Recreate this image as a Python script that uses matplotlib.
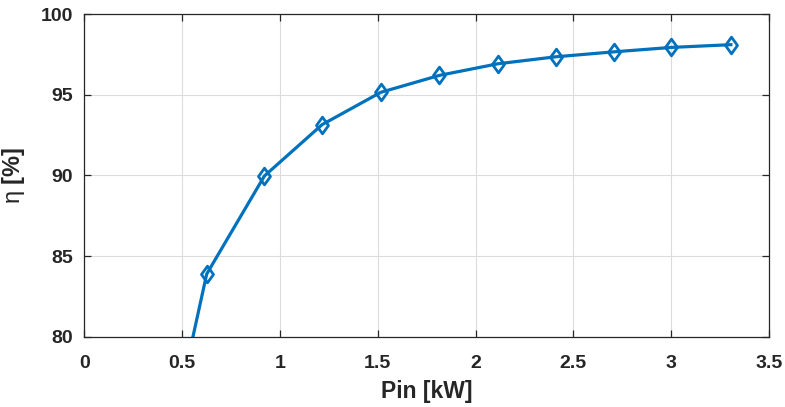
import numpy as np
from matplotlib import pyplot as plt
from matplotlib.path import Path

# input power [kW] and efficiency [%]
pin = [0.52, 0.625, 0.92, 1.215, 1.515, 1.815, 2.115, 2.41, 2.71, 3.0, 3.305]
eta = [78.1, 83.9, 89.97, 93.15, 95.15, 96.2, 96.92, 97.35, 97.66, 97.93, 98.1]

xticks = [0, 0.5, 1, 1.5, 2, 2.5, 3, 3.5]
yticks = [80, 85, 90, 95, 100]

plt.rcParams['font.family'] = ['Liberation Sans', 'DejaVu Sans']
plt.rcParams['mathtext.fontset'] = 'custom'
plt.rcParams['mathtext.rm'] = 'Liberation Sans'

# tall diamond, like the matlab one in the source figure
diamond = Path([(0, 1), (0.72, 0), (0, -1), (-0.72, 0), (0, 1)],
               [Path.MOVETO, Path.LINETO, Path.LINETO, Path.LINETO, Path.CLOSEPOLY])

fig = plt.figure(figsize=(7.85, 4.07), dpi=100)
ax = fig.add_axes([0.1076, 0.172, 0.872, 0.7936])

ax.plot(pin, eta, color='#0072BD', lw=2.3, marker=diamond, ms=12,
        mfc='none', mec='#0072BD', mew=2.0)

ax.set_xlim(0, 3.5)
ax.set_ylim(80, 100)
ax.set_xticks(xticks)
ax.set_xticklabels([f'{t:g}' for t in xticks])
ax.set_yticks(yticks)
ax.grid(True, color='#dcdcdc', lw=0.8)
ax.set_axisbelow(True)

ax.tick_params(direction='in', top=True, right=True, length=5,
               width=0.9, color='#262626', labelsize=14,
               labelcolor='#262626')
ax.tick_params(axis='x', pad=13)
ax.tick_params(axis='y', pad=8)
for lab in ax.get_xticklabels() + ax.get_yticklabels():
    lab.set_fontweight('bold')
for s in ax.spines.values():
    s.set_color('#262626')
    s.set_linewidth(0.9)

ax.set_xlabel('Pin [kW]', fontsize=16.5, fontweight='bold', color='#262626', labelpad=6)
ax.set_ylabel(r'$\mathrm{\eta}$ [%]', fontsize=17, fontweight='bold',
              color='#262626', labelpad=10)

fig.savefig('out.png', dpi=100)
